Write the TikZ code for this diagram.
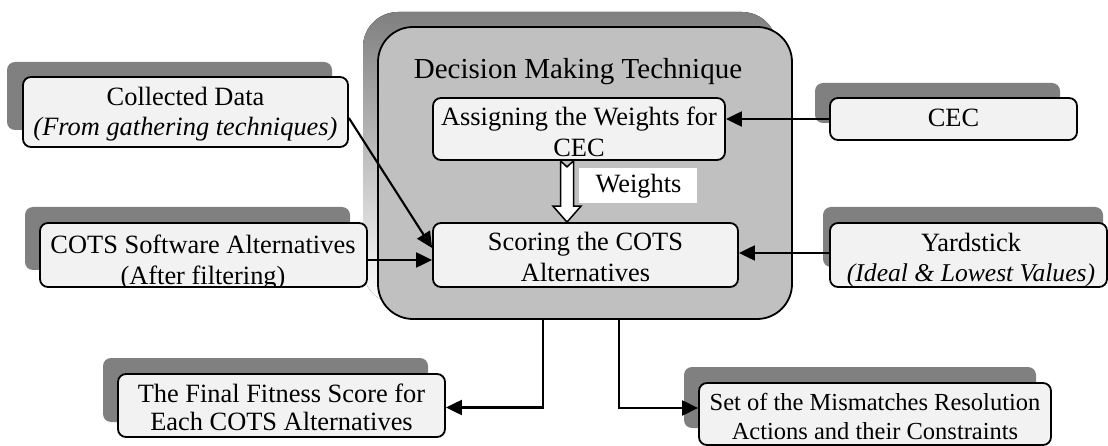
\documentclass[tikz,border=0pt]{standalone}
\usepackage{fontspec}
\setmainfont{Liberation Serif}
\usetikzlibrary{arrows.meta,calc}

\definecolor{boxfill}{HTML}{F2F2F2}
\definecolor{shade}{HTML}{808080}
\definecolor{panel}{HTML}{C0C0C0}

\tikzset{
  box/.style={draw=black, line width=1.8pt, fill=boxfill, rounded corners=8pt,
    rectangle, inner sep=0pt},
  shadowbox/.style={fill=shade, rounded corners=8pt},
  txt/.style={font=\fontsize{26.4}{29}\selectfont, inner sep=0pt, anchor=base},
  smalltxt/.style={font=\fontsize{24.5}{29}\selectfont, inner sep=0pt, anchor=base},
  titletxt/.style={font=\fontsize{29}{32}\selectfont, inner sep=0pt, anchor=base},
  conn/.style={draw=black, line width=2.1pt,
    -{Triangle[length=16pt,width=15pt]}},
}

\begin{document}
\begin{tikzpicture}[x=1pt, y=-1pt]
\useasboundingbox (0,0) rectangle (1108,446);

% decision making panel
\fill[shade, rounded corners=35pt] (363,12) rectangle (777,304);
\node[draw=black, line width=1.8pt, fill=panel, rounded corners=35pt,
      minimum width=414pt, minimum height=292pt, inner sep=0pt] (dmt) at (585,173) {};
\node[titletxt] (dmt-title) at (578,79) {Decision Making Technique};

% drop shadows of the outer boxes
\fill[shadowbox] (7,62) rectangle (332,130);
\fill[shadowbox] (25,207) rectangle (350,270);
\fill[shadowbox] (815,83) rectangle (1060,123);
\fill[shadowbox] (823,207) rectangle (1103,267);
\fill[shadowbox] (103,358) rectangle (428,422);
\fill[shadowbox] (684,367) rectangle (1036,428);

% boxes
\node[box, minimum width=325pt, minimum height=70pt] (collected) at (185.5,112) {};
\node[box, minimum width=327pt, minimum height=64pt] (cots) at (203.5,255) {};
\node[box, minimum width=292pt, minimum height=62pt] (assign) at (579,129) {};
\node[box, minimum width=305pt, minimum height=64pt] (scoring) at (585.5,255) {};
\node[box, minimum width=247pt, minimum height=42pt] (cec) at (953.5,119) {};
\node[box, minimum width=277pt, minimum height=64pt] (yard) at (968.5,255) {};
\node[box, minimum width=327pt, minimum height=63pt] (final) at (281.5,405.5) {};
\node[box, minimum width=352pt, minimum height=62pt] (set) at (875,414) {};

% box texts
\node[txt] (collected-a) at (185.5,106) {Collected Data};
\node[txt] (collected-b) at (185.5,136) {\itshape (From gathering techniques)};

\begin{scope}
  \clip[rounded corners=8pt] (cots.south west) rectangle (cots.north east);
  \node[txt] (cots-a) at (203,254) {COTS Software Alternatives};
  \node[txt] (cots-b) at (203,284) {(After filtering)};
\end{scope}

\node[txt] (assign-a) at (579,126) {Assigning the Weights for};
\node[txt] (assign-b) at (579,157) {CEC};

\node[txt] (scoring-a) at (585.5,251) {Scoring the COTS};
\node[txt] (scoring-b) at (585.5,282) {Alternatives};

\node[txt] (cec-a) at (953.5,127) {CEC};

\begin{scope}
  \clip[rounded corners=8pt] (yard.south west) rectangle (yard.north east);
  \node[txt] (yard-a) at (971,252) {Yardstick};
  \node[font=\fontsize{25.6}{29}\selectfont\itshape, inner sep=0pt, anchor=base]
    (yard-b) at (971,282) {(Ideal \& Lowest Values)};
\end{scope}

\node[txt] (final-a) at (281.5,402) {The Final Fitness Score for};
\node[txt] (final-b) at (281.5,430) {Each COTS Alternatives};

\node[smalltxt] (set-a) at (875,410) {Set of the Mismatches Resolution};
\node[smalltxt] (set-b) at (875,439) {Actions and their Constraints};

% hollow block arrow carrying the weights
\coordinate (wt) at ([xshift=-12pt]assign.south);
\coordinate (wh) at (wt |- scoring.north);
\draw[fill=white, line width=1.5pt, line join=miter]
  ($(wt)+(-6.5,0)$) -- ($(wt)+(0,6)$) -- ($(wt)+(6.5,0)$)
  -- ($(wh)+(6.5,-16)$) -- ($(wh)+(14,-16)$) -- (wh)
  -- ($(wh)+(-14,-16)$) -- ($(wh)+(-6.5,-16)$) -- cycle;
\node[fill=white, minimum width=118pt, minimum height=35pt, inner sep=0pt]
  (weights-bg) at (638,185.5) {};
\node[txt] (weights) at (638.5,193) {Weights};

% connectors
\draw[conn] ([yshift=-6pt]collected.east) -- ([yshift=7pt]scoring.west);
\draw[conn] ([yshift=-5pt]cots.east) -- ([yshift=-5pt]scoring.west);
\draw[conn] (cec.west) -- (cec.west -| assign.east);
\draw[conn] ([yshift=2pt]yard.west) -- ([yshift=2pt]yard.west -| scoring.east);
\draw[conn] ([xshift=-42pt]dmt.south) |- ([yshift=-2pt]final.east);
\draw[conn] ([xshift=34pt]dmt.south) |- ([yshift=6pt]set.west);
\end{tikzpicture}
\end{document}
